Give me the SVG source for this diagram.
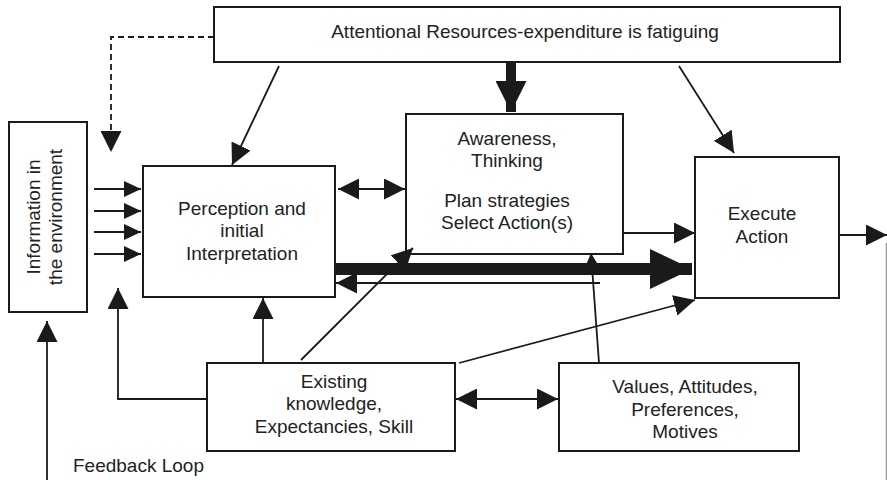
<svg xmlns="http://www.w3.org/2000/svg" width="887" height="480" viewBox="0 0 887 480">
<style>
.box{fill:#fff;stroke:#1a1a1a;stroke-width:2}
text{font-family:"Liberation Sans",Arial,sans-serif;font-size:19px;fill:#222;text-anchor:middle}
.ln{fill:none;stroke:#1a1a1a;stroke-width:1.8}
</style>
<defs>
<marker id="ah" markerUnits="userSpaceOnUse" markerWidth="21" markerHeight="21" refX="21" refY="10.5" orient="auto-start-reverse"><path d="M0,0 L21,10.5 L0,21 z" fill="#1a1a1a"/></marker>
<marker id="ahs" markerUnits="userSpaceOnUse" markerWidth="17" markerHeight="16" refX="17" refY="8" orient="auto"><path d="M0,0 L17,8 L0,16 z" fill="#1a1a1a"/></marker>
<marker id="ahb" markerUnits="userSpaceOnUse" markerWidth="42" markerHeight="40" refX="42" refY="20" orient="auto"><path d="M0,0 L42,20 L0,40 z" fill="#1a1a1a"/></marker>
<marker id="ahm" markerUnits="userSpaceOnUse" markerWidth="31" markerHeight="31" refX="31" refY="15.5" orient="auto"><path d="M0,0 L31,15.5 L0,31 z" fill="#1a1a1a"/></marker>
</defs>

<g id="attention"><rect class="box" x="214" y="7" width="626" height="55"/><text x="525" y="38">Attentional Resources-expenditure is fatiguing</text></g>
<g id="info"><rect class="box" x="9" y="122" width="78" height="190"/><text transform="translate(40,217) rotate(-90)">Information in</text><text transform="translate(62,217) rotate(-90)">the environment</text></g>
<g id="perception"><rect class="box" x="143" y="166" width="192" height="131"/><text x="242" y="215">Perception and</text><text x="242" y="237">initial</text><text x="242" y="260">Interpretation</text></g>
<g id="awareness"><rect class="box" x="406" y="114" width="217" height="140"/><text x="507" y="145">Awareness,</text><text x="507" y="167">Thinking</text><text x="507" y="207">Plan strategies</text><text x="507" y="229">Select Action(s)</text></g>
<g id="execute"><rect class="box" x="695" y="157" width="144" height="141"/><text x="762" y="220">Execute</text><text x="762" y="243">Action</text></g>
<g id="existing"><rect class="box" x="207" y="363" width="248" height="88"/><text x="334" y="388">Existing</text><text x="334" y="410">knowledge,</text><text x="334" y="433">Expectancies, Skill</text></g>
<g id="values"><rect class="box" x="559" y="363" width="240" height="88"/><text x="685" y="393">Values, Attitudes,</text><text x="685" y="416">Preferences,</text><text x="685" y="438">Motives</text></g>

<g id="connectors">
<path class="ln" d="M214,37 H111 V152" stroke-dasharray="6,4" marker-end="url(#ah)"/>
<line class="ln" x1="279" y1="66" x2="232" y2="165" marker-end="url(#ah)"/>
<line x1="511" y1="62" x2="511" y2="112" stroke="#1a1a1a" stroke-width="10" marker-end="url(#ahm)"/>
<line class="ln" x1="679" y1="66" x2="734" y2="153" marker-end="url(#ah)"/>
<line class="ln" x1="338" y1="189" x2="405" y2="189" marker-start="url(#ah)" marker-end="url(#ah)"/>
<line class="ln" x1="94" y1="189" x2="141" y2="189" marker-end="url(#ahs)"/>
<line class="ln" x1="94" y1="211" x2="141" y2="211" marker-end="url(#ahs)"/>
<line class="ln" x1="94" y1="232" x2="141" y2="232" marker-end="url(#ahs)"/>
<line class="ln" x1="94" y1="254" x2="141" y2="254" marker-end="url(#ahs)"/>
<line class="ln" x1="623" y1="233" x2="695" y2="233" marker-end="url(#ah)"/>
<line class="ln" x1="839" y1="235" x2="887" y2="235" marker-end="url(#ah)"/>
<line x1="336" y1="269" x2="692" y2="269" stroke="#1a1a1a" stroke-width="12" marker-end="url(#ahb)"/>
<line class="ln" x1="600" y1="283" x2="336" y2="283" marker-end="url(#ah)"/>
<line class="ln" x1="301" y1="360" x2="413" y2="248" stroke-width="1.5" marker-end="url(#ah)"/>
<line class="ln" x1="599" y1="363" x2="591" y2="253" stroke-width="1.5" marker-end="url(#ah)"/>
<line class="ln" x1="459" y1="363" x2="695" y2="300" marker-end="url(#ah)"/>
<line class="ln" x1="456" y1="399" x2="558" y2="399" marker-start="url(#ah)" marker-end="url(#ah)"/>
<line class="ln" x1="263" y1="363" x2="263" y2="298" marker-end="url(#ah)"/>
<path class="ln" d="M207,399 H118 V288" marker-end="url(#ah)"/>
<line class="ln" x1="47" y1="480" x2="47" y2="321" marker-end="url(#ah)"/>
<line x1="886.5" y1="243" x2="886.5" y2="480" stroke="#999" stroke-width="1.5"/>
</g>
<text x="73" y="472" style="text-anchor:start">Feedback Loop</text>
</svg>
